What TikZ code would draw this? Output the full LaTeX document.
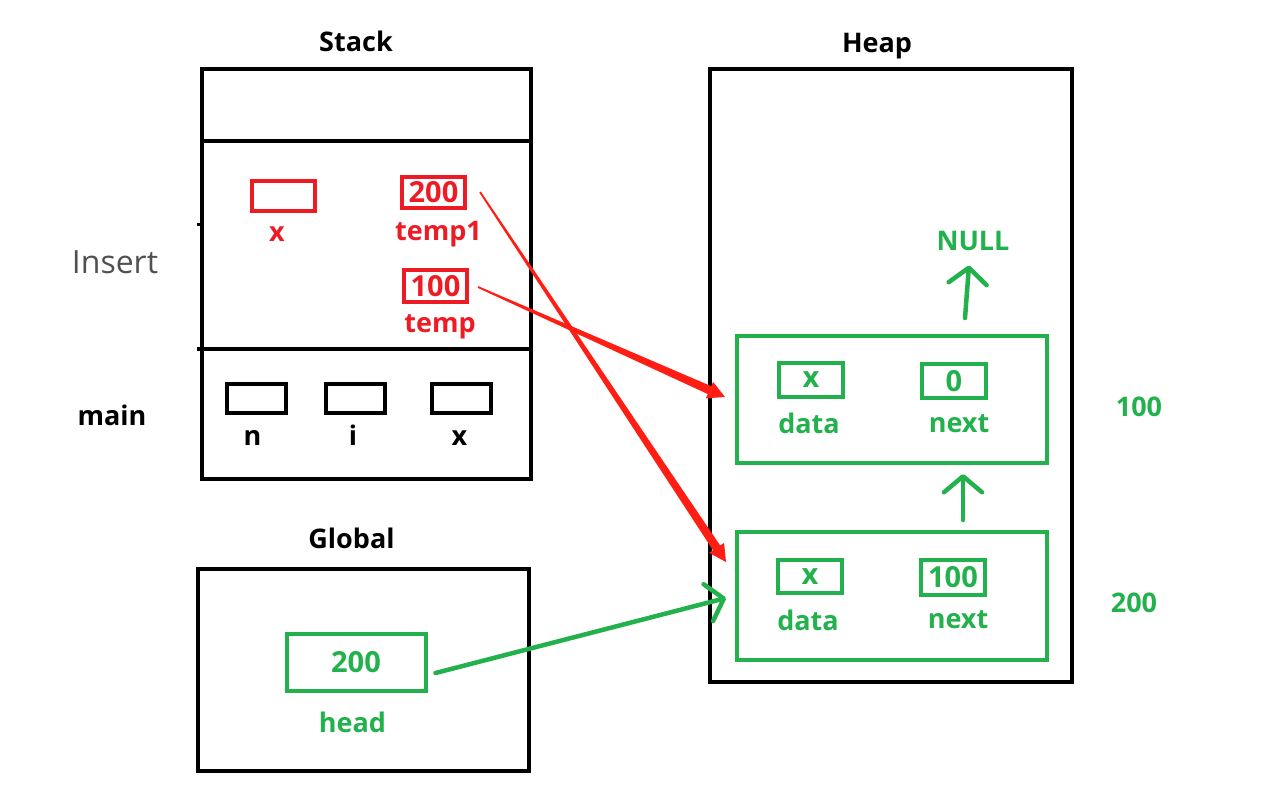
\documentclass[tikz,border=0pt]{standalone}
\usepackage{fontspec}
\setmainfont{Open Sans}
\usetikzlibrary{calc,positioning,arrows.meta}
\definecolor{boxgreen}{RGB}{34,177,76}
\definecolor{boxred}{RGB}{237,28,36}
\definecolor{arrowred}{RGB}{255,30,20}
\definecolor{insertgray}{RGB}{80,80,80}

\begin{document}
\begin{tikzpicture}[x=1pt,y=-1pt,
  txt/.style={font=\bfseries\fontsize{27}{30}\selectfont, inner sep=0pt},
  lbl/.style={txt, anchor=base},
  frame/.style={draw, line width=4.5pt, inner sep=0pt},
  cell/.style={draw, line width=4pt, inner sep=0pt, txt, font=\bfseries\fontsize{29}{32}\selectfont},
  link/.style={boxgreen, line width=4.5pt, line cap=round,
    -{Straight Barb[length=16pt,width=38pt,round]}}]
\useasboundingbox (0,0) rectangle (1282,788);

% stack
\node[frame, minimum width=329pt, minimum height=410pt] (stack) at (366.5,274) {};
\draw[line width=4.5pt] ([yshift=-74pt]stack.north west) -- ([yshift=-74pt]stack.north east);
\draw[line width=4.5pt] ([xshift=-3pt,yshift=-282pt]stack.north west) -- ([yshift=-282pt]stack.north east);
\draw[line width=3pt] ([yshift=-158pt]stack.north west) -- +(-3,0);
\node[lbl] (stacktitle) at (356,51) {Stack};
\node[anchor=base, inner sep=0pt, text=insertgray, font=\fontsize{32}{36}\selectfont] (insert) at (115,273) {Insert};
\node[lbl] (main) at (112,425) {main};

% frame of Insert
\node[cell, boxred, minimum width=63pt, minimum height=30pt] (xbox) at (283.5,196) {};
\node[cell, boxred, minimum width=63pt, minimum height=31pt] (tmp1box) at (433.5,192.5) {200};
\node[cell, boxred, minimum width=63pt, minimum height=32pt] (tmpbox) at (435.5,286) {100};
\node[lbl, boxred] (xlbl) at (277,241) {x};
\node[lbl, boxred] (tmp1lbl) at (438.5,240) {temp1};
\node[lbl, boxred] (tmplbl) at (440,332) {temp};

% frame of main
\foreach \name/\cx/\lx in {n/256.5/252.5, i/355.5/353, x/461.5/459.5}
{
\node[cell, minimum width=59pt, minimum height=29pt] (\name box) at (\cx,398) {};
\node[lbl] (\name lbl) at (\lx,445) {\name};
}

% global
\node[frame, minimum width=331pt, minimum height=202pt] (global) at (363.5,670) {};
\node[lbl] (globaltitle) at (351.5,548) {Global};
\node[cell, boxgreen, minimum width=139pt, minimum height=57pt] (headbox) at (356,662) {200};
\node[lbl, boxgreen] (headlbl) at (352.5,732) {head};

% heap
\node[frame, minimum width=362pt, minimum height=613pt] (heap) at (891,375.5) {};
\node[lbl] (heaptitle) at (877,52) {Heap};
\node[cell, boxgreen, minimum width=310pt, minimum height=127pt] (nodea) at (892,399.5) {};
\node[cell, boxgreen, minimum width=310pt, minimum height=128pt] (nodeb) at (892,596) {};
\node[cell, boxgreen, minimum width=64pt, minimum height=34pt] (adata) at (811,380) {x};
\node[cell, boxgreen, minimum width=64pt, minimum height=34pt] (anext) at (954,381) {0};
\node[cell, boxgreen, minimum width=64pt, minimum height=33pt] (bdata) at (810,576.5) {x};
\node[cell, boxgreen, minimum width=64pt, minimum height=35pt] (bnext) at (953,577.5) {100};
\node[lbl, boxgreen] (adatalbl) at (809,433) {data};
\node[lbl, boxgreen] (anextlbl) at (959,432) {next};
\node[lbl, boxgreen] (bdatalbl) at (808,630) {data};
\node[lbl, boxgreen] (bnextlbl) at (958,628) {next};
\node[lbl, boxgreen] (null) at (973,250) {NULL};
\node[lbl, boxgreen] (addra) at (1139,416) {100};
\node[lbl, boxgreen] (addrb) at (1134,612) {200};

% green links
\draw[link] ([xshift=73pt,yshift=16pt]nodea.north) -- ([xshift=-4pt,yshift=-15pt]null.south);
\draw[link] ([xshift=71pt,yshift=10pt]nodeb.north) -- ([xshift=71pt,yshift=-9pt]nodea.south);
\draw[link] ([xshift=8pt,yshift=-11pt]headbox.east) -- ([xshift=-9pt,yshift=-2pt]nodeb.west);

% red pointers
\foreach \s/\sx/\sy/\e/\ex/\ey in {tmpbox/9/-1/nodea/-10/2.5, tmp1box/13/0.5/nodeb/-9/34}
{
\path ([xshift=\sx pt,yshift=\sy pt]\s.east) coordinate (p)
      ([xshift=\ex pt,yshift=\ey pt]\e.west) coordinate (q);
\path ($(q)!17pt!(p)$) coordinate (h);
\fill[arrowred] ($(p)!0.9pt!90:(q)$) -- ($(h)!4.3pt!90:(q)$) -- ($(h)!9pt!90:(q)$) -- (q)
  -- ($(h)!9pt!-90:(q)$) -- ($(h)!4.3pt!-90:(q)$) -- ($(p)!0.9pt!-90:(q)$) -- cycle;
}
\end{tikzpicture}
\end{document}
